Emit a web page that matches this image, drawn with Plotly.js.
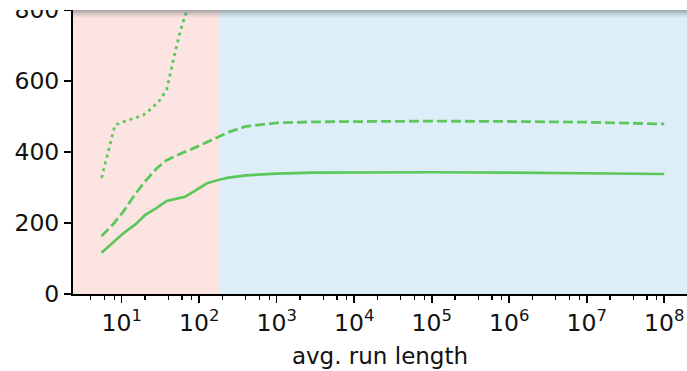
<!DOCTYPE html>
<html><head><meta charset="utf-8">
<script src="https://cdn.plot.ly/plotly-3.0.1.min.js"></script>
<style>html,body{margin:0;padding:0;background:#fff}#chart{width:687px;height:371px}</style>
</head><body><div id="chart"></div>
<script>
// ---- data ----
const runLength = [5.5, 8, 10.5, 15, 20, 28, 38, 50, 66, 90, 126, 180, 240, 400, 1e3, 3e3, 1e4, 1e5, 1e6, 1e7, 1e8];
const solidValues = [116, 148, 171, 196, 222, 242, 262, 268, 274, 292, 312, 322, 328, 334, 339, 342, 343, 343, 342, 340, 338];
const dashedValues = [163, 200, 232, 282, 317, 353, 377, 390, 401, 413, 428, 443, 456, 472, 482, 485, 486, 487, 486, 484, 479];
const dottedRunLength = [5.5, 8.2, 10.5, 14, 19, 24.4, 31, 38, 44, 50, 57, 66, 75, 90];
const dottedValues = [327, 476, 485, 495, 504, 523, 546, 575, 640, 690, 740, 785, 810, 870];
const regionSplit = 185;
const yTicks = [0, 200, 400, 600, 800];
const xTicks = [1e1, 1e2, 1e3, 1e4, 1e5, 1e6, 1e7, 1e8];
const xTickText = ['10<sup>1</sup>', '10<sup>2</sup>', '10<sup>3</sup>', '10<sup>4</sup>', '10<sup>5</sup>', '10<sup>6</sup>', '10<sup>7</sup>', '10<sup>8</sup>'];
const xTitle = 'avg. run length';

// minor ticks at 2,4,6,8 of each decade
const minorTicks = [];
for (let e = 0; e <= 8; e++) for (const s of [2, 4, 6, 8]) minorTicks.push(s * Math.pow(10, e));

const green = 'rgb(92,200,92)';
const traces = [
  {x: runLength, y: solidValues, mode: 'lines', line: {color: green, width: 2.7}, hoverinfo: 'skip'},
  {x: runLength, y: dashedValues, mode: 'lines', line: {color: green, width: 2.8, dash: '10px,4px'}, hoverinfo: 'skip'},
  {x: dottedRunLength, y: dottedValues, mode: 'lines', line: {color: green, width: 2.8, dash: '3px,4px'}, hoverinfo: 'skip'}
];

const H = 294; // plot height in px
const shapes = [
  {type: 'rect', xref: 'x', yref: 'paper', x0: 1, x1: regionSplit, y0: 0, y1: 1, fillcolor: '#fce4e2', line: {width: 0}, layer: 'below'},
  {type: 'rect', xref: 'x', yref: 'paper', x0: regionSplit, x1: 1e10, y0: 0, y1: 1, fillcolor: '#ddeef9', line: {width: 0}, layer: 'below'},
  {type: 'rect', xref: 'paper', yref: 'paper', x0: -0.2, x1: 1.1, y0: 1 - 10 / H, y1: 1.1, fillcolor: '#ffffff', line: {width: 0}, layer: 'above'}
];
const shadeAlpha = [0.5, 0.42, 0.34, 0.26, 0.19, 0.13, 0.08, 0.04];
shadeAlpha.forEach((a, i) => {
  shapes.push({type: 'rect', xref: 'paper', yref: 'paper', x0: 0, x1: 1.1,
    y0: 1 - (11 + i) / H, y1: 1 - (10 + i) / H,
    fillcolor: 'rgba(90,100,110,' + a + ')', line: {width: 0}, layer: 'above'});
});

const layout = {
  width: 687, height: 371,
  margin: {l: 73, r: 0, t: 0, b: 77},
  paper_bgcolor: '#ffffff', plot_bgcolor: '#ffffff',
  showlegend: false,
  font: {family: 'DejaVu Sans', size: 23.5, color: '#111'},
  xaxis: {
    type: 'log', range: [0.372, 8.294],
    tickmode: 'array', tickvals: xTicks, ticktext: xTickText,
    showline: true, linecolor: '#000', linewidth: 2, mirror: false,
    ticks: 'outside', ticklen: 7, tickwidth: 1.6, tickcolor: '#000',
    showgrid: false, zeroline: false, ticklabeloverflow: 'allow',
    minor: {tickmode: 'array', tickvals: minorTicks, ticks: 'outside', ticklen: 4, tickwidth: 1.2, tickcolor: '#000', showgrid: false},
    title: {text: xTitle, font: {size: 23}, standoff: 12}
  },
  yaxis: {
    range: [0, 828.2],
    tickmode: 'array', tickvals: yTicks,
    showline: true, linecolor: '#000', linewidth: 2, mirror: false,
    ticks: 'outside', ticklen: 7, tickwidth: 1.6, tickcolor: '#000',
    showgrid: false, zeroline: false, ticklabeloverflow: 'allow'
  },
  shapes: shapes
};

Plotly.newPlot('chart', traces, layout, {displayModeBar: false, staticPlot: true});
</script>
</body></html>
